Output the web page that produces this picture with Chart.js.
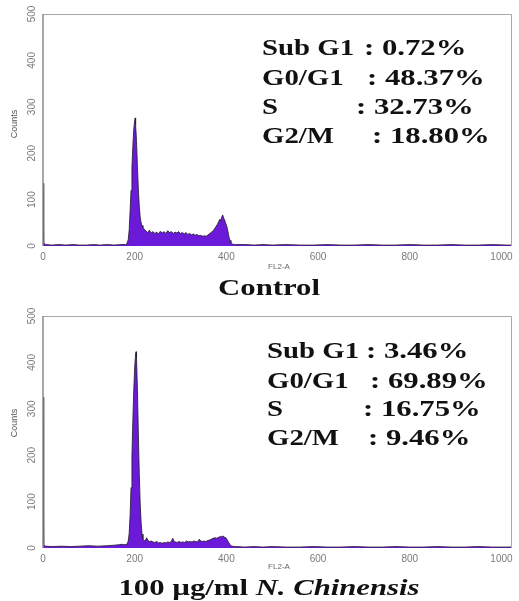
<!DOCTYPE html>
<html>
<head>
<meta charset="utf-8">
<script src="https://cdn.jsdelivr.net/npm/chart.js@4.4.0/dist/chart.umd.min.js"></script>
<style>
  body { margin: 0; background: #fff; }
  canvas { display: block; }
</style>
</head>
<body>
<canvas id="ctrl" width="519" height="300"></canvas>
<canvas id="treated" width="519" height="301"></canvas>
<script>
// FL2-A channel / counts
var ctrlChannels = [
  0, 1, 2, 5, 20, 35, 50, 65, 80, 95, 110, 125, 140, 155, 170, 180,
  183, 186, 188, 190, 192, 194, 196, 198, 200, 201, 202, 204, 206, 208, 210, 212, 214, 216, 218, 220,
  224, 228, 232, 236, 240, 244, 248, 252, 256, 260, 264, 268, 272, 276, 280, 284, 288,
  292, 296, 300, 304, 308, 312, 316, 320, 324, 328, 332, 336, 340, 344, 348, 352, 356,
  360, 364, 368, 372, 376, 380, 383, 386, 388, 390, 392, 394, 396, 398, 400, 402, 404, 406, 408, 410, 413,
  420, 440, 460, 480, 500, 530, 560, 590, 620, 650, 680, 710, 740, 770, 800, 830, 860, 890, 920, 950, 980, 1010, 1023
];
var ctrlCounts = [
  135, 60, 8, 3, 2, 3, 2, 3, 2, 2, 3, 2, 3, 2, 3, 3,
  5, 14, 35, 75, 120, 170, 215, 252, 270, 276, 262, 225, 170, 122, 86, 62, 50, 44, 40, 37,
  33, 29, 34, 28, 31, 27, 30, 26, 32, 28, 31, 27, 33, 29, 31, 27, 30,
  28, 31, 27, 29, 26, 29, 25, 27, 24, 26, 23, 25, 22, 23, 21, 22, 21,
  24, 27, 30, 34, 40, 46, 52, 58, 53, 63, 67, 60, 57, 50, 45, 38, 28, 18, 12, 7, 4,
  3, 3, 2, 3, 2, 3, 2, 2, 3, 2, 2, 3, 2, 2, 3, 2, 2, 3, 2, 2, 3, 2, 2
];

var ncChannels = [
  0, 1, 2, 5, 20, 40, 60, 80, 100, 120, 140, 155, 165, 172, 178,
  183, 186, 188, 190, 192, 194, 196, 198, 200, 202, 203, 204, 206, 208, 210, 212, 214, 216, 218, 220,
  223, 226, 229, 232, 236, 240, 244, 248, 252, 256, 260, 264, 268, 272, 276, 280, 283, 286, 289,
  293, 297, 301, 305, 309, 313, 317, 321, 325, 329, 333, 337, 341, 344, 347, 351, 355, 359,
  363, 367, 371, 375, 379, 383, 387, 390, 393, 396, 399, 402, 405, 408, 412,
  420, 440, 460, 480, 500, 530, 560, 590, 620, 650, 680, 710, 740, 770, 800, 830, 860, 890, 920, 950, 980, 1010, 1023
];
var ncCounts = [
  325, 40, 8, 4, 3, 4, 3, 4, 5, 4, 5, 6, 7, 8, 7,
  8, 15, 32, 70, 130, 200, 275, 340, 390, 418, 423, 410, 340, 245, 160, 95, 55, 30, 20, 16,
  15, 22, 16, 14, 15, 13, 12, 14, 11, 12, 10, 12, 11, 13, 12, 14, 21, 14, 13,
  12, 14, 12, 13, 12, 15, 13, 14, 13, 15, 14, 13, 19, 15, 14, 15, 14, 16,
  17, 19, 21, 22, 21, 23, 25, 24, 26, 23, 22, 17, 12, 7, 4,
  3, 2, 3, 2, 3, 2, 2, 3, 2, 2, 3, 2, 2, 3, 2, 2, 3, 2, 2, 3, 2, 2, 2
];

var xTicks = [0, 200, 400, 600, 800, 1000];
var yTicks = [0, 100, 200, 300, 400, 500];

var phases = ['Sub G1', 'G0/G1', 'S', 'G2/M'];
var ctrlStats = ['0.72%', '48.37%', '32.73%', '18.80%'];
var ncStats = ['3.46%', '69.89%', '16.75%', '9.46%'];

var LABEL_STRETCH = 1.2;
var VALUE_STRETCH = 1.28;
var SERIF = '"Liberation Serif", "Times New Roman", serif';
var SANS = 'Arial, "Liberation Sans", sans-serif';

function wideText(ctx, text, x, y, font, k) {
  ctx.save();
  ctx.font = font;
  ctx.translate(x, y);
  ctx.scale(k, 1);
  ctx.fillText(text, 0, 0);
  var w = ctx.measureText(text).width * k;
  ctx.restore();
  return w;
}

var panelText = {
  id: 'panelText',
  afterDraw: function (chart, args, o) {
    var ctx = chart.ctx;
    var a = chart.chartArea;
    var ys = chart.scales.y;

    // frame
    ctx.save();
    ctx.strokeStyle = '#a8a8a8';
    ctx.lineWidth = 1;
    ctx.beginPath();
    ctx.moveTo(a.left, a.top + 0.5);
    ctx.lineTo(a.right - 0.5, a.top + 0.5);
    ctx.lineTo(a.right - 0.5, a.bottom);
    ctx.stroke();
    ctx.strokeStyle = '#8a8a8a';
    ctx.lineWidth = 1.5;
    ctx.beginPath();
    ctx.moveTo(a.left, a.top);
    ctx.lineTo(a.left, a.bottom);
    ctx.stroke();
    ctx.restore();

    // rotated y tick labels and axis titles
    ctx.save();
    ctx.fillStyle = '#7a7a7a';
    ctx.font = '10px ' + SANS;
    ctx.textAlign = 'center';
    ctx.textBaseline = 'middle';
    yTicks.forEach(function (v) {
      ctx.save();
      ctx.translate(32, ys.getPixelForValue(v));
      ctx.rotate(-Math.PI / 2);
      ctx.fillText(String(v), 0, 0);
      ctx.restore();
    });
    ctx.fillStyle = '#555';
    ctx.font = '9px ' + SANS;
    ctx.save();
    ctx.translate(15, o.countsY);
    ctx.rotate(-Math.PI / 2);
    ctx.fillText('Counts', 0, 0);
    ctx.restore();
    ctx.fillStyle = '#666';
    ctx.font = '8px ' + SANS;
    ctx.fillText('FL2-A', 279, o.flY);
    ctx.restore();

    // phase percentages
    ctx.save();
    ctx.fillStyle = '#111';
    ctx.textBaseline = 'alphabetic';
    var bold = 'bold 24px ' + SERIF;
    phases.forEach(function (p, i) {
      wideText(ctx, p, o.labelX, o.baselines[i], bold, LABEL_STRETCH);
      wideText(ctx, ': ' + o.stats[i], o.colonX[i], o.baselines[i], bold, VALUE_STRETCH);
    });

    // panel caption
    var total = 0;
    o.caption.forEach(function (part) {
      ctx.font = part[1] + ' 24px ' + SERIF;
      total += ctx.measureText(part[0]).width * VALUE_STRETCH;
    });
    var x = 269 - total / 2;
    o.caption.forEach(function (part) {
      x += wideText(ctx, part[0], x, o.captionY, part[1] + ' 24px ' + SERIF, VALUE_STRETCH);
    });
    ctx.restore();
  }
};

function makeChart(id, channels, counts, plotTop, plotBottom, text) {
  var canvas = document.getElementById(id);
  var points = channels.map(function (c, i) { return { x: c, y: counts[i] }; });
  return new Chart(canvas, {
    type: 'line',
    data: {
      datasets: [{
        data: points,
        borderColor: 'rgba(40,30,50,0.85)',
        borderWidth: 1,
        backgroundColor: '#6a1ad8',
        fill: 'origin',
        pointRadius: 0,
        tension: 0
      }]
    },
    options: {
      responsive: false,
      animation: false,
      devicePixelRatio: 1,
      layout: { padding: { top: plotTop, right: 7, left: 0, bottom: 0 } },
      plugins: {
        legend: { display: false },
        tooltip: { enabled: false },
        panelText: text
      },
      scales: {
        x: {
          type: 'linear',
          min: 0,
          max: 1023,
          grid: { display: false, drawTicks: false },
          border: { display: false },
          afterBuildTicks: function (s) { s.ticks = xTicks.map(function (v) { return { value: v }; }); },
          afterFit: function (s) { s.height = canvas.height - plotBottom; },
          ticks: {
            padding: 5,
            color: '#7a7a7a',
            font: { size: 10, family: SANS },
            maxRotation: 0,
            autoSkip: false,
            callback: function (v) { return String(v); }
          }
        },
        y: {
          min: 0,
          max: 500,
          grid: { display: false, drawTicks: false },
          border: { display: false },
          ticks: { display: false },
          afterFit: function (s) { s.width = 43; }
        }
      }
    },
    plugins: [panelText]
  });
}

makeChart('ctrl', ctrlChannels, ctrlCounts, 14, 246, {
  stats: ctrlStats,
  labelX: 262,
  colonX: [364, 367, 356, 372],
  baselines: [55, 85, 114, 143],
  countsY: 124,
  flY: 267,
  captionY: 295,
  caption: [['Control', 'bold']]
});

makeChart('treated', ncChannels, ncCounts, 16, 248, {
  stats: ncStats,
  labelX: 267,
  colonX: [366, 370, 363, 368],
  baselines: [58, 88, 116, 145],
  countsY: 123,
  flY: 267,
  captionY: 295,
  caption: [['100 µg/ml ', 'bold'], ['N. Chinensis', 'italic bold']]
});
</script>
</body>
</html>
